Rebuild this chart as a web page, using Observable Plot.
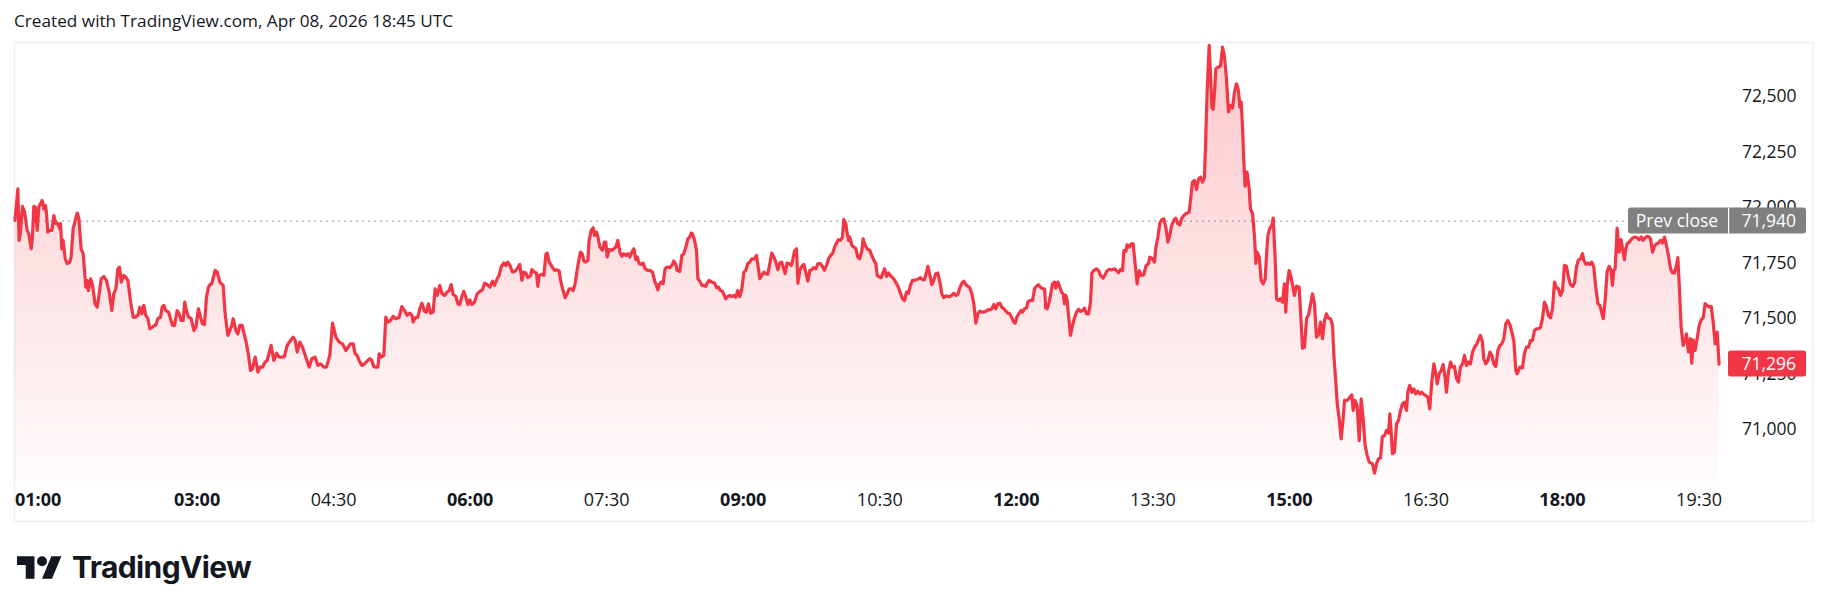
<!DOCTYPE html>
<html><head><meta charset="utf-8">
<script src="https://cdn.jsdelivr.net/npm/d3@7"></script>
<script src="https://cdn.jsdelivr.net/npm/@observablehq/plot@0.6"></script>
<style>
html,body{margin:0;padding:0;background:#fff;}
#wrap{position:relative;width:1830px;height:611px;overflow:hidden;background:#fff;}
#header{position:absolute;left:14px;top:9px;font-family:"Open Sans",sans-serif;font-size:17.2px;color:#131722;line-height:24px;white-space:nowrap;}
#chart{position:absolute;left:0;top:42px;}
#footer{position:absolute;left:17px;top:549px;height:36px;display:flex;align-items:center;gap:10px;}
#footer span{font-family:Inter,sans-serif;font-weight:700;font-size:30px;color:#131722;letter-spacing:-0.6px;}
</style></head><body>
<div id="wrap">
<div id="header">Created with TradingView.com, Apr 08, 2026 18:45 UTC</div>
<div id="chart"></div>
<div id="footer"><svg width="45" height="27" viewBox="0 3 36 20"><path fill="#131722" d="M14 22H7V11H0V4h14v18zM28 22h-8l7.5-18h8L28 22z"/><circle fill="#131722" cx="20" cy="8" r="4"/></svg><span>TradingView</span></div>
</div>
<script>
// ---- data (minutes after 01:00, price) ----
const seg1Minutes = [0,1.9,2.7,3.6,4.9,6.3,7.1,8.0,9.1,10.7,
11.5,12.4,13.3,14.6,15.7,16.8,17.9,19.0,20.1,20.8,
21.6,23.0,24.3,25.6,26.9,28.2,29.6,30.0,30.9,31.7,
33.1,34.4,36.1,37.0,38.3,39.7,41.0,42.1,43.6,44.9,
46.7,47.6,48.4,49.8,51.1,52.8,54.2,55.5,56.8,58.6,
60.3,62.1,63.8,65.1,66.5,67.8,68.9,70.0,71.7,73.1,
74.4,76.1,77.9,79.2,81.0,82.3,83.6,84.9,86.2,87.6,
88.9,90.6,91.9,92.8,94.1,95.9,97.0,98.1,99.4,101.2,
102.5,103.8,105.1,106.9,108.2,109.5,110.8,111.9,113.0,114.4,
116.1,117.9,119.2,120.9,122.3,123.6,124.9,126.2,127.5,128.9,
129.7,131.9,133.3,135.0,137.2,138.5,140.3,141.6,142.9,143.8,
145.6,146.9,148.2,149.7,151.3,152.6,153.9,155.2,156.5,158.3,
160.1,161.4,163.1,164.9,166.2,168.8,170.6,172.4,174.1,175.9,
177.6,179.4,181.6,183.3,184.7,186.0,187.7,189.5,191.3,193.9,
195.6,197.8,199.6,201.4,203.6,205.3,207.5,209.3,211.5,213.7,
215.9,218.1,221.1];
const seg1Prices = [71943,72085,71853,71890,72006,71980,71943,71898,71883,71815,
71868,72006,72003,71898,72003,72018,72033,71995,72010,71973,
71890,71898,71898,71965,71928,71928,71905,71928,71815,71853,
71770,71748,71755,71778,71905,71943,71976,71950,71815,71793,
71642,71672,71627,71680,71650,71567,71552,71612,71680,71690,
71672,71620,71537,71612,71635,71725,71732,71665,71695,71687,
71672,71582,71507,71507,71515,71552,71522,71560,71515,71500,
71455,71462,71470,71470,71500,71507,71552,71560,71537,71530,
71500,71470,71470,71537,71522,71492,71492,71575,71537,71507,
71500,71447,71462,71545,71507,71477,71474,71597,71642,71657,
71657,71718,71710,71665,71650,71522,71425,71447,71470,71500,
71447,71432,71470,71470,71425,71387,71335,71267,71275,71327,
71260,71282,71282,71305,71312,71380,71312,71345,71327,71327,
71330,71380,71402,71417,71402,71350,71395,71372,71335,71282,
71320,71327,71290,71297,71282,71282,71335,71480,71417,71395,
71387,71357,71387];

const seg2Minutes = [222.9,224.2,225.5,226.8,228.6,230.4,232.1,233.9,235.2,236.5,
237.8,239.2,240.0,241.3,243.1,244.4,245.7,247.5,249.3,251.0,
253.2,255.0,256.7,258.5,260.2,261.6,262.4,263.8,265.5,266.8,
268.2,269.9,271.2,272.5,273.9,275.6,276.9,278.3,280.0,281.3,
283.1,284.8,286.2,287.5,288.8,290.6,291.9,293.2,294.5,295.8,
297.2,298.5,299.8,301.1,302.9,304.6,306.4,308.1,309.5,311.2,
313.0,314.7,316.0,317.8,319.1,320.4,322.2,323.5,324.8,326.2,
327.9,329.7,331.0,332.7,334.1,335.4,336.7,338.0,339.8,340.7,
342.4,343.7,344.6,345.5,347.2,348.6,349.9,350.8,352.1,353.8,
355.6,356.9,358.7,359.5,360.9,362.6,363.9,365.3,366.6,367.9,
369.2,370.5,371.8,372.7,374.0,374.9,376.2,377.6,378.4,379.8,
381.1,382.0,383.3,384.2,385.5,387.2,388.5,389.4,390.3,391.6,
393.4,394.7,396.0,397.3,398.7,400.0,401.3,402.6,403.9,405.2,
406.6,407.9,409.2,410.1,411.4,412.7,414.0,415.3,416.7,418.4,
420.2,421.5,422.8,423.7,424.6,425.9,427.2,428.5,429.8,431.6,
433.4,434.2,435.6,436.4,438.2,439.5,440.8,442.2,443.5,444.8,
445.7];
const seg2Prices = [71387,71342,71335,71312,71290,71297,71309,71320,71312,71285,
71282,71282,71342,71327,71335,71507,71485,71492,71510,71500,
71507,71555,71537,71515,71525,71515,71485,71504,71507,71545,
71570,71534,71530,71567,71525,71530,71635,71605,71650,71615,
71605,71620,71627,71654,71609,71600,71567,71564,71600,71624,
71597,71564,71585,71564,71575,71612,71623,71630,71660,71654,
71642,71669,71650,71680,71695,71733,71751,71740,71755,71740,
71710,71715,71725,71745,71673,71710,71706,71685,71695,71721,
71710,71706,71646,71695,71700,71695,71790,71796,71755,71736,
71718,71721,71715,71676,71635,71595,71612,71635,71635,71627,
71658,71718,71770,71800,71790,71760,71755,71763,71853,71898,
71910,71875,71890,71868,71823,71808,71845,71845,71778,71811,
71808,71815,71823,71853,71800,71781,71793,71785,71793,71778,
71800,71815,71766,71778,71748,71745,71751,71725,71718,71718,
71710,71673,71650,71630,71654,71665,71658,71725,71733,71730,
71745,71760,71745,71718,71713,71785,71793,71823,71860,71868,
71886];

const seg3Minutes = [446.5,447.9,449.2,450.1,451.4,452.7,454.0,455.3,456.2,457.5,
459.3,461.1,462.4,463.7,465.0,466.3,467.2,468.5,469.8,471.2,
472.5,473.8,475.1,476.4,477.7,479.1,480.4,481.7,483.0,484.3,
485.7,487.4,488.7,489.6,490.9,492.2,493.6,494.9,496.2,497.5,
498.8,500.2,501.5,502.8,504.1,505.4,506.7,507.6,508.9,510.3,
511.6,512.5,513.8,515.1,516.0,517.3,518.6,519.9,521.2,522.6,
523.9,525.2,526.5,527.8,529.2,530.9,532.2,533.5,534.9,536.2,
537.5,538.8,540.1,541.5,542.8,544.1,545.4,546.3,547.6,548.5,
549.4,550.2,551.6,552.9,554.2,555.5,556.8,558.2,559.0,560.4,
561.7,563.4,564.7,566.1,567.4,568.3,569.6,570.9,572.2,573.1,
574.4,575.7,577.5,579.2,581.0,582.3,583.6,585.0,586.3,587.6,
588.9,590.2,591.5,592.9,594.2,595.5,596.8,598.1,599.5,600.8,
601.7,603.0,604.3,605.6,606.9,608.2,609.6,610.9,612.2,613.5,
614.8,616.2,617.5,618.8,620.1,621.4,622.8,624.1,625.4,626.7,
628.0,629.3,630.7,632.0,633.3,634.6,635.9,637.2,638.6,639.9,
641.2,642.5,643.8,645.2,646.5,647.8,649.1,650.4,651.8,653.1,
654.4,655.7,657.0,658.3,659.2,660.5,661.9,663.2,664.1,665.4,
666.7,667.6,668.9];
const seg3Prices = [71883,71853,71808,71680,71669,71650,71650,71646,71660,71673,
71665,71660,71640,71642,71627,71624,71609,71590,71600,71605,
71600,71605,71597,71627,71600,71635,71710,71718,71748,71755,
71770,71770,71785,71745,71680,71695,71710,71703,71700,71748,
71796,71778,71755,71721,71751,71755,71725,71703,71751,71748,
71740,71760,71805,71815,71660,71718,71736,71745,71710,71669,
71718,71721,71730,71725,71748,71748,71736,71718,71740,71770,
71785,71793,71820,71841,71856,71853,71868,71946,71928,71883,
71853,71868,71830,71823,71815,71778,71770,71808,71860,71830,
71815,71808,71785,71763,71748,71695,71688,71685,71710,71725,
71691,71706,71691,71680,71658,71642,71615,71590,71582,71620,
71615,71650,71673,71673,71676,71680,71685,71676,71676,71710,
71736,71695,71654,71673,71703,71706,71665,71612,71595,71603,
71600,71600,71606,71615,71605,71609,71640,71660,71669,71654,
71646,71640,71612,71567,71480,71522,71534,71530,71530,71534,
71540,71540,71545,71564,71545,71567,71570,71552,71545,71534,
71525,71522,71504,71485,71480,71510,71525,71537,71530,71545,
71549,71575,71582];

const seg4Minutes = [670.7,672.0,673.3,674.6,675.9,677.2,678.6,679.4,680.3,681.6,
682.5,683.8,685.2,686.0,687.4,688.7,690.0,690.9,691.7,692.6,
693.5,694.4,695.7,697.0,698.3,699.7,701.0,702.3,703.6,704.9,
706.2,707.6,708.9,709.8,711.1,712.8,714.2,715.5,717.2,718.5,
719.9,721.2,722.9,724.7,726.0,727.3,728.7,730.0,730.9,732.2,
733.0,734.4,735.7,737.0,738.3,739.6,741.0,742.3,744.0,745.4,
747.1,748.0,749.3,751.1,751.9,753.3,754.6,755.9,757.2,758.5,
759.9,761.2,762.5,763.8,765.1,766.4,767.8,769.1,770.4,771.7,
773.0,773.9,774.8,776.1,777.4,778.7,780.1,781.4,782.7,784.0,
784.9,785.8,787.1,788.0,788.9,789.7,790.6,791.5,792.8,794.6,
795.9,797.2,798.5,799.8,801.2,802.5,803.8,805.1,806.4,807.3,
808.2,809.1,809.9,810.8,812.1,813.5,814.3,815.7,817.0,817.9,
818.7,820.1,821.4,822.7,824.0,824.9,825.8,827.1,828.4,829.3,
830.6,831.5,832.8,834.1,835.4,836.7,837.6,838.5,839.8,841.1,
842.5,843.3,844.7,846.4,847.7,848.6,849.9,851.3,852.6,853.9,
855.2,856.5,857.8,859.2,860.5,861.8,863.1,864.4,865.7,867.1,
868.4,869.3,870.6,871.5,872.8,874.1,875.4,876.3,878.1,879.8,
881.1,882.0,883.3,884.6,886.0,887.3,888.6,889.9,891.2,892.6];
const seg4Prices = [71582,71635,71647,71653,71642,71635,71635,71548,71545,71575,
71605,71657,71665,71638,71665,71642,71617,71612,71567,71605,
71582,71515,71425,71470,71503,71530,71542,71533,71537,71548,
71522,71522,71575,71707,71717,71725,71717,71695,71683,71698,
71717,71722,71720,71725,71717,71707,71722,71717,71807,71803,
71833,71822,71837,71837,71747,71657,71717,71695,71698,71737,
71749,71777,71773,71755,71818,71868,71931,71946,71950,71913,
71845,71878,71923,71943,71953,71928,71923,71953,71965,71973,
71977,71980,72033,72115,72123,72082,72130,72138,72115,72138,
72326,72528,72731,72596,72453,72443,72513,72626,72633,72638,
72723,72678,72581,72431,72461,72449,72521,72558,72528,72453,
72476,72363,72213,72097,72160,72085,71995,71973,71868,71749,
71800,71777,71672,71657,71680,71785,71875,71908,71920,71953,
71770,71590,71582,71590,71575,71657,71530,71650,71717,71687,
71635,71605,71647,71642,71485,71367,71372,71503,71518,71563,
71612,71567,71417,71428,71485,71410,71492,71522,71503,71500,
71470,71334,71214,71117,71049,70959,71049,71132,71132,71147,
71157,71087,71132,71109,70951,71139,71049,70929,70887,70854];

const seg5Minutes = [894.7,896.1,897.4,898.7,900.0,901.3,902.7,904.0,905.3,906.2,
907.0,907.9,909.2,910.6,911.9,913.2,914.5,915.8,917.2,918.0,
919.3,920.7,922.0,923.3,924.6,925.9,927.3,928.6,929.9,931.2,
932.5,933.8,935.2,936.5,937.4,938.7,940.0,941.3,942.6,943.5,
944.8,946.2,947.5,948.8,950.1,951.4,952.7,954.1,955.4,956.7,
958.0,959.3,960.7,962.0,963.3,964.6,965.9,967.2,968.1,969.4,
970.8,972.1,973.4,974.7,976.0,977.4,978.7,980.0,981.3,982.6,
983.9,985.3,986.6,987.9,989.2,990.1,991.9,993.6,994.9,996.2,
997.6,998.9,1000.2,1001.5,1002.8,1004.2,1005.5,1006.8,1008.1,1009.4,
1010.7,1012.1,1013.4,1014.7,1016.0,1017.3,1018.7,1020.0,1021.3,1022.6,
1023.9,1025.2,1026.6,1027.9,1029.2,1030.5,1031.8,1033.2,1034.0,1035.4,
1036.7,1038.0,1039.3,1040.6,1041.9,1043.3,1044.6,1045.5,1046.8,1048.1,
1049.4,1050.7,1052.0,1052.9,1053.8,1054.7,1056.0,1057.3,1058.6,1060.0,
1060.8,1061.7,1062.6,1063.9,1065.2,1066.5,1067.9,1069.2,1070.5,1071.8,
1073.1,1074.5,1075.8,1077.1,1078.0,1079.3,1080.6,1081.9,1083.2,1084.6,
1085.9,1087.2,1088.5,1089.8,1091.2,1092.5,1093.8,1095.1,1096.0,1096.9,
1098.2,1099.5,1100.8,1101.7,1103.0,1104.3,1105.2,1106.1,1107.4,1108.7,
1110.1,1111.4,1112.7,1114.0,1115.3,1116.6,1118.0,1119.3,1120.6,1121.9,
1123.2];
const seg5Prices = [70847,70805,70847,70869,70874,70970,70974,70997,70985,71072,
70997,70892,70899,71027,71042,71087,71117,71124,71087,71169,
71200,71169,71184,71162,71174,71162,71169,71159,71154,71147,
71094,71215,71297,71252,71207,71252,71267,71294,71237,71169,
71260,71305,71282,71285,71230,71215,71282,71297,71335,71290,
71305,71297,71350,71372,71384,71405,71425,71395,71320,71297,
71312,71350,71335,71297,71285,71357,71380,71387,71410,71477,
71492,71474,71440,71402,71267,71252,71282,71279,71342,71372,
71372,71402,71402,71447,71455,71455,71462,71500,71575,71555,
71515,71504,71545,71665,71640,71635,71605,71627,71740,71736,
71688,71655,71646,71661,71733,71766,71769,71793,71763,71745,
71751,71745,71755,71733,71643,71568,71560,71537,71500,71583,
71710,71736,71718,71650,71718,71725,71908,71800,71856,71800,
71766,71815,71838,71845,71856,71865,71868,71865,71856,71868,
71853,71865,71871,71868,71860,71800,71826,71838,71841,71853,
71841,71868,71830,71785,71725,71706,71706,71740,71775,71658,
71462,71380,71402,71432,71350,71410,71300,71405,71357,71410,
71470,71495,71504,71568,71560,71553,71556,71485,71387,71440,
71296];

const prevClose = 71940;
const lastPrice = 71296;
const priceTicks = [71000, 71250, 71500, 71750, 72000, 72250, 72500];
const timeTicksBold = ["03:00", "06:00", "09:00", "12:00", "15:00", "18:00"];
const timeTicksNormal = ["04:30", "07:30", "10:30", "13:30", "16:30", "19:30"];
const firstTimeTick = ["01:00"];
const sessionStart = "2026-04-08T01:00:00Z";
const sessionViewEndMinutes = 1129.4;

// ---- build ----
const t0 = Date.parse(sessionStart);
const segs = [[seg1Minutes, seg1Prices],[seg2Minutes, seg2Prices],[seg3Minutes, seg3Prices],[seg4Minutes, seg4Prices],[seg5Minutes, seg5Prices]];
const data = [];
segs.forEach(([ms, ps], k) => {
  if (ms.length !== ps.length) console.error("segment length mismatch", k, ms.length, ps.length);
  ms.forEach((m, i) => data.push({time: new Date(t0 + m * 60000), price: ps[i]}));
});
const toDate = s => new Date(`2026-04-08T${s}:00Z`);
const fmtTime = d3.utcFormat("%H:%M");
const fmtPrice = d3.format(",");
const RED = "#F23645";
const FONT = "'Open Sans', sans-serif";
const ns = "http://www.w3.org/2000/svg";

const W = 1830, H = 480, ML = 14.5, MR = 102, MT = 0, MB = 35;

const chart = Plot.plot({
  width: W, height: H,
  marginLeft: ML, marginRight: MR, marginTop: MT, marginBottom: MB,
  style: {fontFamily: FONT, background: "transparent", overflow: "visible"},
  x: {type: "utc", domain: [new Date(t0), new Date(t0 + sessionViewEndMinutes * 60000)], axis: null},
  y: {domain: [70740, 72744], axis: null},
  marks: [
    () => {
      const defs = document.createElementNS(ns, "defs");
      defs.innerHTML = `<linearGradient id="areaGrad" x1="0" y1="0" x2="0" y2="${H - MB}" gradientUnits="userSpaceOnUse">
        <stop offset="0" stop-color="${RED}" stop-opacity="0.28"/>
        <stop offset="1" stop-color="${RED}" stop-opacity="0.015"/></linearGradient>`;
      return defs;
    },
    // outer frame
    (i, s, v, d) => {
      const r = document.createElementNS(ns, "rect");
      r.setAttribute("x", 14.5); r.setAttribute("y", 0.5);
      r.setAttribute("width", d.width - 14.5 - 17); r.setAttribute("height", d.height - 1);
      r.setAttribute("fill", "none"); r.setAttribute("stroke", "#eef0f3"); r.setAttribute("stroke-width", 1.5);
      return r;
    },
    Plot.areaY(data, {x: "time", y1: 70740, y2: "price", fill: "url(#areaGrad)", curve: "linear"}),
    Plot.ruleY([prevClose], {stroke: "#787b86", strokeDasharray: "1.3,4.7", strokeWidth: 1.3}),
    Plot.lineY(data, {x: "time", y: "price", stroke: RED, strokeWidth: 3.2, strokeLinejoin: "round", curve: "linear"}),
    // price scale labels
    Plot.text(priceTicks, {y: d => d, text: d => fmtPrice(d), frameAnchor: "right", dx: 68, textAnchor: "end", lineAnchor: "middle", fontSize: 17.5, fill: "#131722"}),
    // time scale labels
    Plot.text(timeTicksBold.map(toDate), {x: d => d, text: d => fmtTime(d), frameAnchor: "bottom", dy: 13, lineAnchor: "middle", fontSize: 18, fontWeight: 700, fill: "#131722"}),
    Plot.text(timeTicksNormal.map(toDate), {x: d => d, text: d => fmtTime(d), frameAnchor: "bottom", dy: 13, lineAnchor: "middle", fontSize: 18, fontWeight: 400, fill: "#131722"}),
    Plot.text(firstTimeTick.map(toDate), {x: d => d, text: d => fmtTime(d), frameAnchor: "bottom", dy: 13, dx: 0, textAnchor: "start", lineAnchor: "middle", fontSize: 18, fontWeight: 700, fill: "#131722"}),
    // prev close label
    (i, s, v, d) => {
      const y = s.y(prevClose), xr = d.width - d.marginRight;
      const g = document.createElementNS(ns, "g");
      g.innerHTML = `<rect x="${xr - 100}" y="${y - 13}" width="178" height="26" rx="3" fill="#808080"/>
        <rect x="${xr}" y="${y - 13}" width="1.2" height="26" fill="#ffffff"/>
        <text x="${xr - 51}" y="${y}" dy="0.35em" text-anchor="middle" fill="#fff" font-size="17.5">Prev close</text>
        <text x="${xr + 68}" y="${y}" dy="0.35em" text-anchor="end" fill="#fff" font-size="17.5">${fmtPrice(prevClose)}</text>`;
      return g;
    },
    // last price label
    (i, s, v, d) => {
      const y = s.y(lastPrice), xr = d.width - d.marginRight;
      const g = document.createElementNS(ns, "g");
      g.innerHTML = `<rect x="${xr}" y="${y - 13}" width="78" height="26" rx="2.5" fill="${RED}"/>
        <text x="${xr + 68}" y="${y}" dy="0.35em" text-anchor="end" fill="#fff" font-size="17.5">${fmtPrice(lastPrice)}</text>`;
      return g;
    }
  ]
});
document.getElementById("chart").appendChild(chart);
</script>
</body></html>
